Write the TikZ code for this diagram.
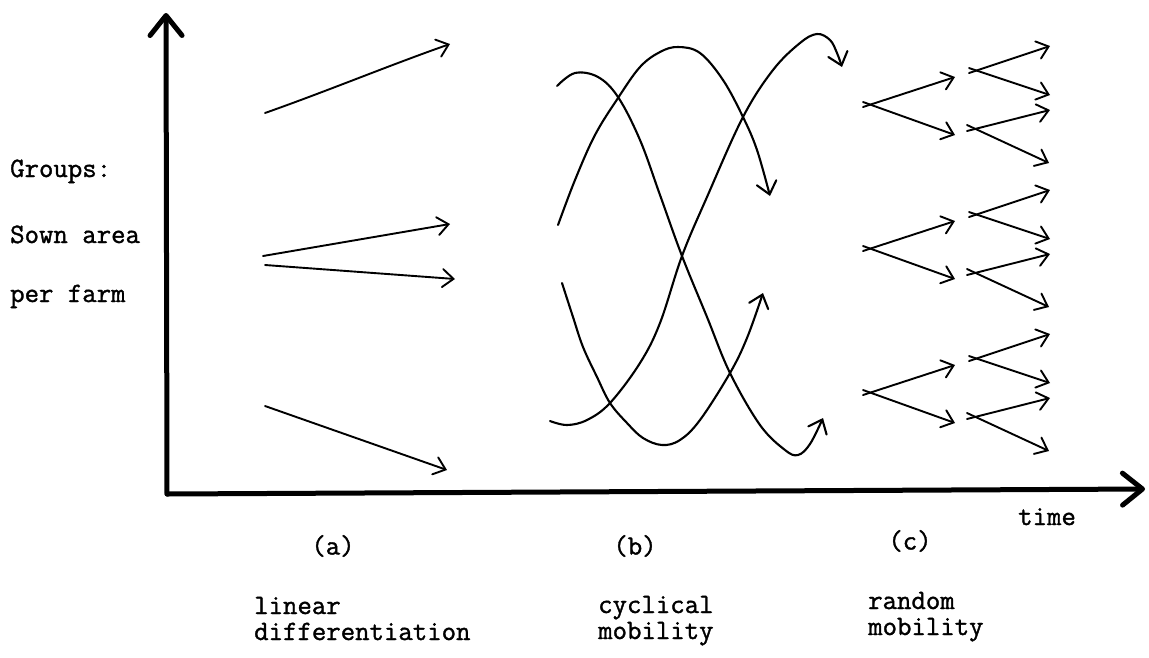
\documentclass[tikz,border=0pt]{standalone}
\usepackage{fontspec}
\newfontfamily\typew[BoldFont={Latin Modern Mono},BoldFeatures={FakeBold=1.3}]{Latin Modern Mono}
\usetikzlibrary{arrows.meta}
\begin{document}
\begin{tikzpicture}[x=1pt,y=-1pt,
  axisline/.style={line width=5pt,line cap=round,line join=round,
    -{Straight Barb[length=20pt,width=32pt,line cap=round,line join=round]}},
  thinarrow/.style={line width=1.9pt,line cap=round,line join=round,
    -{Straight Barb[length=11pt,width=18pt,line cap=round]}},
  curvearrow/.style={line width=2.1pt,line cap=round,line join=round,
    -{Straight Barb[length=12pt,width=20pt,line cap=round]}},
  lbl/.style={font=\typew\bfseries\fontsize{28}{32}\selectfont,inner sep=0pt},
]
\useasboundingbox (0,0) rectangle (1149,657);
% axes
\coordinate (O) at (167,494);
\coordinate (Ytop) at (166,13);
\coordinate (Xend) at (1145,489);
\draw[axisline] (O) -- (Ytop);
\draw[axisline] (O) -- (Xend);

% axis labels
\node[lbl,anchor=base west] (g1) at (10,177) {Groups:};
\node[lbl,anchor=base west] (g2) at (10,243) {Sown area};
\node[lbl,anchor=base west] (g3) at (10,302) {per farm};
\node[lbl,anchor=base west] (time) at (1018,525) {time};

% panel labels
\node[lbl] (la) at (333,546) {(a)};
\node[lbl] (lb) at (635,546) {(b)};
\node[lbl] (lc) at (910,541) {(c)};
\node[lbl,anchor=base west] (a1) at (254,614) {linear};
\node[lbl,anchor=base west] (a2) at (254,640) {differentiation};
\node[lbl,anchor=base west] (b1) at (598,613) {cyclical};
\node[lbl,anchor=base west] (b2) at (598,639) {mobility};
\node[lbl,anchor=base west] (c1) at (868,609) {random};
\node[lbl,anchor=base west] (c2) at (868,635) {mobility};

% (a) linear differentiation
\coordinate (a1s) at (265,113); \coordinate (a1e) at (450,44);
\coordinate (a2s) at (263,256); \coordinate (a2e) at (450,224);
\coordinate (a3s) at (265,265); \coordinate (a3e) at (455,279);
\coordinate (a4s) at (265,406); \coordinate (a4e) at (447,470);
\draw[thinarrow] (a1s) .. controls (330,90) and (390,65) .. (a1e);
\draw[thinarrow] (a2s) -- (a2e);
\draw[thinarrow] (a3s) -- (a3e);
\draw[thinarrow] (a4s) -- (a4e);

% (b) cyclical mobility
\draw[curvearrow] plot[smooth,tension=0.6] coordinates {
  (557,86) (575,73) (598,77) (618,97) (640,140) (660,195) (682,256)
  (707,317) (730,373) (760,425) (785,450) (798,455) (810,444) (823,418)};
\draw[curvearrow] plot[smooth,tension=0.6] coordinates {
  (558,225) (575,180) (595,135) (618,98) (640,67) (660,52) (678,47)
  (700,53) (723,80) (743,117) (757,150) (770,196)};
\draw[curvearrow] plot[smooth,tension=0.6] coordinates {
  (550,421) (567,425) (587,420) (610,403) (640,363) (660,323) (682,256)
  (707,197) (743,117) (773,70) (800,43) (817,34) (830,40) (837,53) (842,67)};
\draw[curvearrow] plot[smooth,tension=0.6] coordinates {
  (562,283) (573,317) (583,347) (597,377) (610,403) (627,423) (643,438)
  (662,445) (680,440) (700,420) (730,373) (747,338) (763,293)};

% (c) random mobility
\foreach \n/\y in {1/0,2/144,3/288}{
  \coordinate (r\n) at (863,106+\y);
  \coordinate (r\n u) at (955,77+\y);
  \coordinate (r\n l) at (955,135+\y);
  \coordinate (r\n us) at (969,73+\y);
  \coordinate (r\n ue1) at (1050,46+\y);
  \coordinate (r\n ue2) at (1050,95+\y);
  \coordinate (r\n ls) at (967,131+\y);
  \coordinate (r\n le1) at (1050,110+\y);
  \coordinate (r\n le2) at (1049,163+\y);
  \draw[thinarrow] ([yshift=-1]r\n) -- (r\n u);
  \draw[thinarrow] ([yshift=4]r\n) -- (r\n l);
  \draw[thinarrow] (r\n us) -- (r\n ue1);
  \draw[thinarrow] ([yshift=5]r\n us) -- (r\n ue2);
  \draw[thinarrow] (r\n ls) -- (r\n le1);
  \draw[thinarrow] ([yshift=6]r\n ls) -- (r\n le2);
}
\end{tikzpicture}
\end{document}
